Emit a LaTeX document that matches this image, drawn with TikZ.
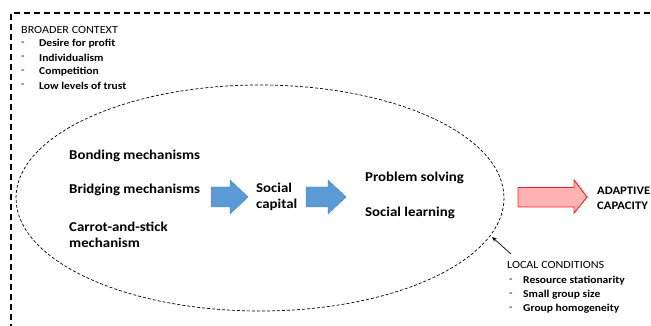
\documentclass[tikz,border=0pt]{standalone}
\usepackage{fontspec}
\setmainfont{Carlito}[FakeStretch=1.1]
\usetikzlibrary{arrows.meta}
\definecolor{blueA}{RGB}{91,155,213}
\definecolor{blueB}{RGB}{70,130,190}
\definecolor{pinkA}{RGB}{255,179,179}
\definecolor{redA}{RGB}{255,30,30}
\tikzset{
  big/.style={anchor=west,inner sep=0pt,font=\fontsize{13.5}{16}\selectfont\bfseries},
  small/.style={anchor=west,inner sep=0pt,font=\fontsize{10.5}{12}\selectfont\bfseries},
  head/.style={anchor=west,inner sep=0pt,font=\fontsize{11}{12}\selectfont},
  dashmark/.style={anchor=west,inner sep=0pt,font=\fontsize{10.5}{12}\selectfont},
  bluearrow/.style={fill=blueA,draw=blueB,line width=0.4pt},
}
\begin{document}
\begin{tikzpicture}[x=1pt,y=-1pt]
\useasboundingbox (0,0) rectangle (651,326);
% outer context frame
\draw[line width=1.3pt,dash pattern=on 6pt off 4pt] (11,330) -- (11,13) -- (660,13);
% ellipse
\draw[line width=0.7pt,dash pattern=on 3pt off 2pt] (260,198) ellipse [x radius=244,y radius=113];
% broader context
\node[head] (bc) at (21,30) {BROADER CONTEXT};
\foreach \y/\t [count=\i] in {43.5/Desire for profit,57.5/Individualism,71.5/Competition,85.5/Low levels of trust}{
  \node[dashmark] (bcd\i) at (21,\y) {-};
  \node[small] (bc\i) at (39,\y) {\t};
}
% mechanisms
\node[big] (bond) at (69,156) {Bonding mechanisms};
\node[big] (bridge) at (69,190) {Bridging mechanisms};
\node[big,align=left] (carrot) at (69,234.5) {Carrot-and-stick\\mechanism};
% blue arrows
\draw[bluearrow] (211,187) -- (230,187) -- (230,180) -- (248,197) -- (230,214) -- (230,207) -- (211,207) -- cycle;
\node[big,align=left] (sc) at (256,196.5) {Social\\capital};
\draw[bluearrow] (306,187) -- (328,187) -- (328,180) -- (346,197) -- (328,214) -- (328,207) -- (306,207) -- cycle;
\node[big] (ps) at (365,178) {Problem solving};
\node[big] (sl) at (365,213) {Social learning};
% red arrow
\draw[fill=pinkA,draw=redA,line width=0.9pt] (518,187.5) -- (574,187.5) -- (574,180) -- (587,197) -- (574,213) -- (574,207) -- (518,207) -- cycle;
\node[big,font=\fontsize{11.5}{14.5}\selectfont\bfseries,align=left] (ac) at (597,198.5) {ADAPTIVE\\CAPACITY};
% local conditions
\coordinate (lctip) at (492,237);
\node[head] (lc) at (507,265) {LOCAL CONDITIONS};
\draw[-{Stealth[length=5pt,width=4pt]},line width=0.7pt] (511,254) -- (lctip);
\foreach \y/\t [count=\i] in {281/Resource stationarity,295/Small group size,309/Group homogeneity}{
  \node[dashmark] (lcd\i) at (509,\y) {-};
  \node[small] (lc\i) at (523,\y) {\t};
}
\end{tikzpicture}
\end{document}
